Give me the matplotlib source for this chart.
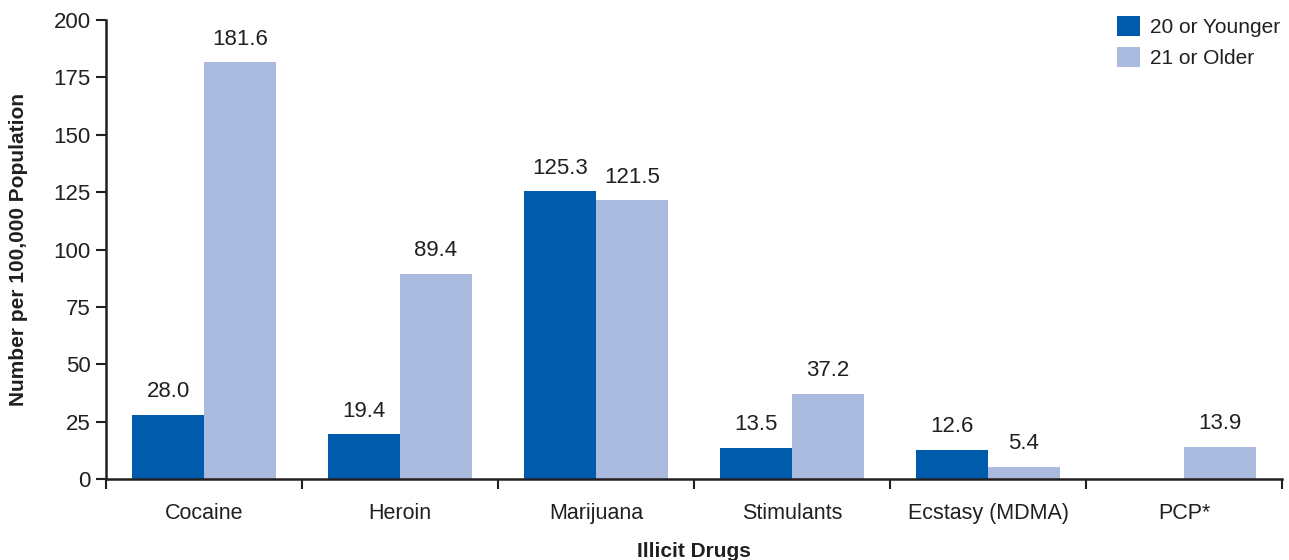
import matplotlib
matplotlib.use("Agg")
import matplotlib.pyplot as plt
import numpy as np

categories = ["Cocaine", "Heroin", "Marijuana", "Stimulants", "Ecstasy (MDMA)", "PCP*"]
younger = [28.0, 19.4, 125.3, 13.5, 12.6, np.nan]
older = [181.6, 89.4, 121.5, 37.2, 5.4, 13.9]
series_names = ["20 or Younger", "21 or Older"]
yticks = [0, 25, 50, 75, 100, 125, 150, 175, 200]

dark = "#005BAC"
light = "#ABBADF"
txt = "#231F20"

plt.rcParams['font.family'] = ['Liberation Sans', 'DejaVu Sans']
fig = plt.figure(figsize=(12.89, 5.6), dpi=100)
ax = fig.add_axes([106/1289, 1-479/560, (1282-106)/1289, (479-20)/560])

x = np.arange(len(categories))
w = 0.367
ax.bar(x - w/2, younger, w, color=dark, label=series_names[0])
ax.bar(x + w/2, older, w, color=light, label=series_names[1])

for xi, v in zip(x, younger):
    if not np.isnan(v):
        ax.text(xi - w/2, v + 5.5, f"{v:.1f}", ha="center", va="bottom", fontsize=16, color=txt)
for xi, v in zip(x, older):
    ax.text(xi + w/2, v + 5.5, f"{v:.1f}", ha="center", va="bottom", fontsize=16, color=txt)

ax.set_xlim(-0.5, len(categories) - 0.5)
ax.set_ylim(0, 200)
ax.set_yticks(yticks)
ax.tick_params(axis='y', labelsize=16, colors=txt, direction='out', length=7, width=1.5, pad=4)
ax.set_xticks(np.arange(len(categories) + 1) - 0.5, minor=False)
ax.set_xticklabels([])
ax.tick_params(axis='x', which='major', direction='out', length=7, width=1.5, colors=txt)
ax.set_xticks(x, minor=True)
ax.set_xticklabels(categories, minor=True)
ax.tick_params(axis='x', which='minor', length=0, labelsize=15.5, colors=txt, pad=17)

for s in ["top", "right"]:
    ax.spines[s].set_visible(False)
for s in ["left", "bottom"]:
    ax.spines[s].set_color(txt)
    ax.spines[s].set_linewidth(1.8)

ax.set_ylabel("Number per 100,000 Population", fontsize=15, fontweight="bold", color=txt, labelpad=18)
ax.set_xlabel("Illicit Drugs", fontsize=15, fontweight="bold", color=txt, labelpad=13)

leg = ax.legend(loc="upper right", bbox_to_anchor=(1.014, 1.05), frameon=False, fontsize=15,
                handlelength=1.1, handleheight=1.1, handletextpad=0.45, labelspacing=0.5)
for t in leg.get_texts():
    t.set_color(txt)

fig.savefig("out.png", dpi=100)
